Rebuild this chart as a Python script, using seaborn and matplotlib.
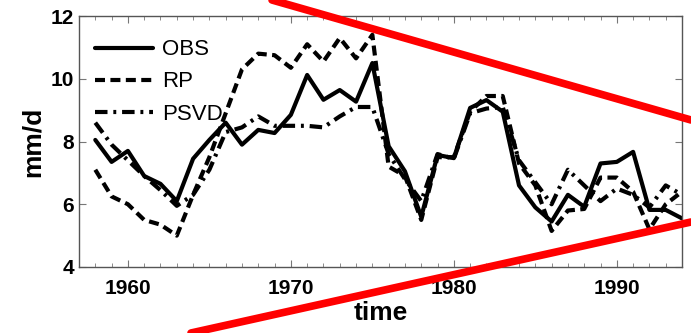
import numpy as np
import pandas as pd
import matplotlib
matplotlib.use("Agg")
import matplotlib.pyplot as plt
from matplotlib.lines import Line2D
from matplotlib.ticker import MultipleLocator
import seaborn as sns

# annual values (mm/d)
years = list(range(1958, 1995))
obs = [8.05, 7.35, 7.7, 6.9, 6.65, 6.1, 7.45, 8.05, 8.6, 7.9,
       8.37, 8.27, 8.85, 10.12, 9.33, 9.64, 9.27, 10.5, 7.85, 7.05,
       5.6, 7.57, 7.47, 9.07, 9.32, 8.95, 6.6, 5.9, 5.45, 6.3,
       5.92, 7.3, 7.35, 7.67, 5.82, 5.82, 5.55]
rp = [7.1, 6.25, 6.0, 5.5, 5.35, 5.0, 6.3, 7.5, 8.9, 10.3,
      10.8, 10.75, 10.35, 11.1, 10.55, 11.3, 10.65, 11.4, 7.2, 6.9,
      5.5, 7.5, 7.5, 8.95, 9.45, 9.45, 7.3, 6.6, 5.15, 5.8,
      5.85, 6.85, 6.85, 6.4, 5.2, 6.0, 6.4]
psvd = [8.6, 7.9, 7.4, 6.9, 6.45, 5.95, 6.3, 7.1, 8.3, 8.45,
        8.8, 8.5, 8.5, 8.5, 8.45, 8.8, 9.1, 9.1, 7.6, 6.8,
        6.1, 7.6, 7.45, 8.9, 9.05, 9.1, 7.4, 6.7, 6.0, 7.1,
        6.6, 6.1, 6.5, 6.3, 5.9, 6.6, 6.3]

series = {"OBS": obs, "RP": rp, "PSVD": psvd}
df = pd.concat([pd.DataFrame({"time": years, "mm/d": v, "series": k})
                for k, v in series.items()], ignore_index=True)

sns.set_style("ticks")
plt.rcParams["font.family"] = ["Liberation Sans", "DejaVu Sans"]
plt.rcParams["text.color"] = "black"
plt.rcParams["axes.labelcolor"] = "black"

fig = plt.figure(figsize=(6.91, 3.33), dpi=100)
ax = fig.add_axes([79 / 691, 66 / 333, 603 / 691, 251 / 333])

sns.lineplot(data=df, x="time", y="mm/d", hue="series", style="series",
             palette={"OBS": "black", "RP": "black", "PSVD": "black"},
             dashes={"OBS": "", "RP": (2.4, 1.3), "PSVD": (3.0, 1.4, 0.7, 1.4)},
             linewidth=3, ax=ax)

ax.set_xlim(1957, 1994)
ax.set_ylim(4, 12)
ax.set_xticks([1960, 1970, 1980, 1990])
ax.set_yticks([4, 6, 8, 10, 12])
ax.xaxis.set_minor_locator(MultipleLocator(1))
ax.tick_params(which="both", direction="in", top=True, right=True,
               color="#777777", labelcolor="black", labelsize=15)
ax.tick_params(which="major", length=5)
ax.tick_params(which="minor", length=3)
ax.tick_params(axis="x", which="major", pad=9)
for lab in ax.get_xticklabels() + ax.get_yticklabels():
    lab.set_fontweight("bold")
for sp in ax.spines.values():
    sp.set_color("#555555")
    sp.set_linewidth(1)

ax.set_xlabel("time", fontsize=19, fontweight="bold", labelpad=2, color="black")
ax.set_ylabel("mm/d", fontsize=19, fontweight="bold", labelpad=4, color="black")

leg = ax.legend(loc="upper left", frameon=False, fontsize=16,
                handlelength=2.6, handletextpad=0.4, labelspacing=0.5,
                borderaxespad=0.2, bbox_to_anchor=(0.005, 0.96))
for h in leg.get_lines():
    h.set_linewidth(3)
for t in leg.get_texts():
    t.set_color("black")

# red overlay strokes across the figure
fig.add_artist(Line2D([272 / 691, 1.0], [1.0, 1 - 120 / 333],
                      transform=fig.transFigure, color="red", lw=5.5))
fig.add_artist(Line2D([191 / 691, 1.0], [0.0, 1 - 222 / 333],
                      transform=fig.transFigure, color="red", lw=5.5))

fig.savefig("out.png", dpi=100)
